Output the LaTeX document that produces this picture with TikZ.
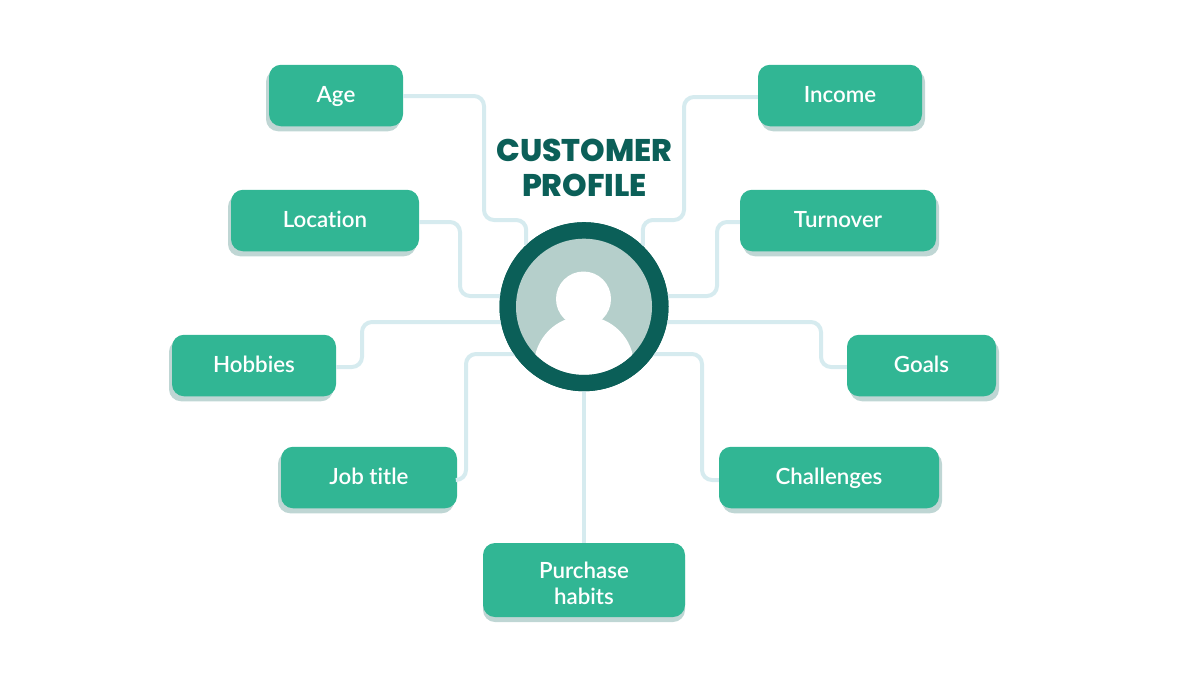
\documentclass[tikz,border=0pt]{standalone}
\usepackage{fontspec}
\setmainfont[Ligatures=NoCommon]{Lato Semibold}
\newfontfamily\titlefont{Poppins ExtraBold}
\usetikzlibrary{shadows}
\newcommand{\boxstrut}{\rule[-4pt]{0pt}{22.6pt}}
\begin{document}
\begin{tikzpicture}[x=1pt,y=-1pt]
  % Colors
  \definecolor{boxcolor}{HTML}{31B694}
  \definecolor{shadowcolor}{HTML}{BFD6D4}
  \definecolor{ringcolor}{HTML}{0B5F58}
  \definecolor{facecolor}{HTML}{B5CFCB}
  \definecolor{linkcolor}{HTML}{D6EBEF}

  % Styles
  \tikzstyle{box}=[rounded corners=12pt,fill=boxcolor,text=white,align=center,inner sep=0pt,
    minimum height=61.5pt,font=\fontsize{22.3}{26}\selectfont,execute at begin node=\boxstrut]
  \tikzstyle{left box}=[box,drop shadow={shadow xshift=-3pt,shadow yshift=-5pt,opacity=1,fill=shadowcolor}]
  \tikzstyle{right box}=[box,drop shadow={shadow xshift=3pt,shadow yshift=-5pt,opacity=1,fill=shadowcolor}]
  \tikzstyle{link}=[draw=linkcolor,line width=4pt,rounded corners=10pt]

  % The graphic
  \useasboundingbox (0,0) rectangle (1181,675);

  \node[circle,fill=ringcolor,inner sep=0pt,minimum size=169pt] (profile) at (584,306.7) {};
  \node[font=\fontsize{31.3}{35}\selectfont\titlefont,text=ringcolor,align=center] (title) at (584.5,168)
    {CUSTOMER\\PROFILE};

  \node[left box,minimum width=134pt] (age) at (336,95.5) {Age};
  \node[left box,minimum width=188pt] (location) at (325,220.5) {Location};
  \node[left box,minimum width=164pt] (hobbies) at (254,365.5) {Hobbies};
  \node[left box,minimum width=176pt] (job) at (369,477.5) {Job title};
  \node[box,minimum width=202pt,minimum height=74pt,
    drop shadow={shadow xshift=0pt,shadow yshift=-5pt,opacity=1,fill=shadowcolor}] (habits) at (584,580) {\rule{0pt}{26.6pt}Purchase\\habits};
  \node[right box,minimum width=164pt] (income) at (840,95.5) {Income};
  \node[right box,minimum width=196pt] (turnover) at (838,220.5) {Turnover};
  \node[right box,minimum width=149pt] (goals) at (921.5,365.5) {Goals};
  \node[right box,minimum width=220pt] (challenges) at (829,477.5) {Challenges};

  % Connectors
  \draw[link] ([yshift=-0.5pt]age.east) -| (484,220) -| (profile.133.4);
  \draw[link] ([yshift=-1.5pt]income.west) -| (684,220) -| (profile.46.6);
  \draw[link] ([yshift=-1.5pt]location.east) -| (460,296) -- (profile |- 0,296);
  \draw[link] ([yshift=-1.5pt]turnover.west) -| (717,296) -- (profile |- 0,296);
  \draw[link] ([yshift=-1.5pt]hobbies.east) -| (362,322) -- (profile |- 0,322);
  \draw[link] ([yshift=-1.5pt]goals.west) -| (821,322) -- (profile |- 0,322);
  \draw[link] ([yshift=-2.5pt]job.east) -| (466,354) -- (profile |- 0,354);
  \draw[link] ([yshift=-2.5pt]challenges.west) -| (702,354) -- (profile |- 0,354);
  \draw[link] (habits.north) -- (profile.south);

  % Person
  \fill[ringcolor] (profile) circle (84.5);
  \fill[facecolor] (profile) circle (68);
  \begin{scope}
    \clip (profile) circle (68);
    \fill[white] (584,366) circle (50);
  \end{scope}
  \fill[white] (583.5,299) circle (27.5);
\end{tikzpicture}
\end{document}
